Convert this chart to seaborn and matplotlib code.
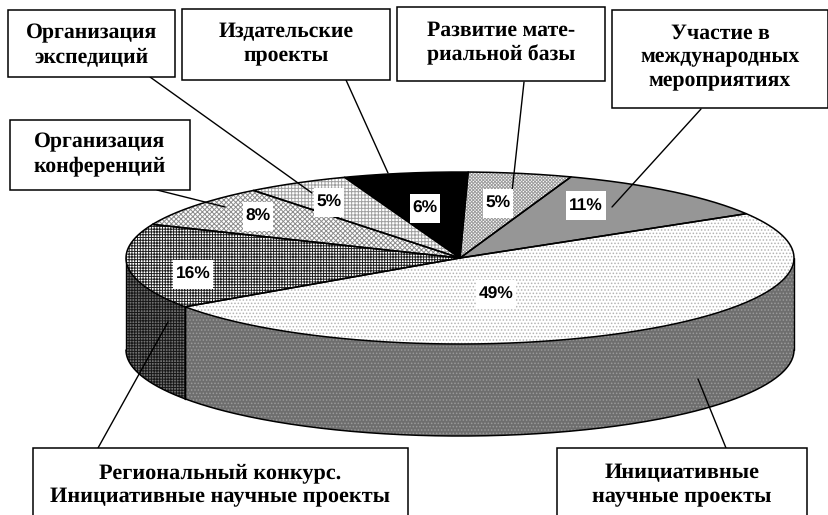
import numpy as np
import seaborn as sns
import matplotlib.pyplot as plt
from matplotlib.patches import Rectangle

values = [11, 5, 6, 5, 8, 16, 49]
box_labels = ["Участие в\nмеждународных\nмероприятиях",
              "Развитие мате-\nриальной базы",
              "Издательские\nпроекты",
              "Организация\nэкспедиций",
              "Организация\nконференций",
              "Региональный конкурс.\nИнициативные научные проекты",
              "Инициативные\nнаучные проекты"]

# styles per slice: face, hatch colour, hatch
top_face = ["#969696", "#ffffff", "#000000", "#ffffff", "#ffffff", "#ffffff", "#ffffff"]
top_hatch_col = ["#969696", "#9c9c9c", "#000000", "#a0a0a0", "#8c8c8c", "#202020", "#b4b4b4"]
top_hatch = [None, "x" * 10, None, "+" * 5, "x" * 7, "+" * 6, "." * 5]
side_face = {5: "#707070", 6: "#6e6e6e"}
side_hatch_col = {5: "#181818", 6: "#9a9a9a"}
side_hatch = {5: "+" * 6, 6: "." * 5}

# all in reference pixels
W, H = 829, 515
CX, CY, RX, RY = 460, 258, 334, 86
DEPTH = 92
START = 31
box_pos = [(612, 10, 216, 98), (397, 7, 208, 74), (182, 9, 208, 71), (8, 10, 167, 67),
           (10, 120, 180, 70), (33, 448, 375, 90), (557, 448, 250, 90)]
box_text_y = [57, 43, 44, 45, 154, 485, 485]
box_fs = [15.7, 15.7, 15.7, 15.7, 15.7, 16, 16]
leaders = [((701, 109), (612, 207)), ((524, 82), (512, 192)), ((346, 80), (388, 173)),
           ((150, 77), (312, 193)), ((157, 190), (225, 207)), ((98, 448), (168, 322)),
           ((726, 448), (698, 379))]
pct_pos = [(586, 205), (498, 203), (425, 208), (329, 202), (258, 216), (193, 274), (496, 294)]

sns.set_theme(style="white")
plt.rcParams["font.family"] = ["Liberation Serif", "DejaVu Sans"]
plt.rcParams["hatch.linewidth"] = 0.7
plt.rcParams["text.hinting"] = "no_hinting"

fig = plt.figure(figsize=(W / 100, H / 100), dpi=100, facecolor="white")

# pie axes: unit circle squashed into the ellipse, with room below for the wall
ax = fig.add_axes([(CX - RX) / W, 1 - (CY + RY + DEPTH) / H, 2 * RX / W, (2 * RY + DEPTH) / H])
wedges, _ = ax.pie(values, startangle=START, counterclock=True, radius=1)
ax.set_aspect("auto")
ax.set_xlim(-1, 1)
ax.set_ylim(-1 - DEPTH / RY, 1)
ax.axis("off")

depth = DEPTH / RY
for i, w in enumerate(wedges):
    w.set_clip_on(False)
    w.set_facecolor(top_face[i])
    w.set_edgecolor(top_hatch_col[i])
    w.set_linewidth(0)
    if top_hatch[i]:
        w.set_hatch(top_hatch[i])
    w.set_zorder(3)
    # black outline on top of the hatched fill
    t = np.radians(np.linspace(w.theta1, w.theta2, 200))
    ax.plot(np.r_[0, np.cos(t), 0], np.r_[0, np.sin(t), 0], color="black", lw=1.1,
            clip_on=False, zorder=4, solid_joinstyle="round")

    # wall, only for the part of the slice on the near side
    for a, b in [(w.theta1, w.theta2), (w.theta1 - 360, w.theta2 - 360)]:
        a, b = max(a, 180), min(b, 360)
        if a >= b:
            continue
        t = np.radians(np.linspace(a, b, 200))
        x, y = np.cos(t), np.sin(t)
        ax.fill_between(x, y, y - depth, facecolor=side_face[i], edgecolor=side_hatch_col[i],
                        hatch=side_hatch[i], linewidth=0, clip_on=False, zorder=1)
        ax.plot(x, y - depth, color="black", lw=1.1, clip_on=False, zorder=2)
        ax.plot([x[0], x[0]], [y[0], y[0] - depth], color="black", lw=1, clip_on=False, zorder=2)
        ax.plot([x[-1], x[-1]], [y[-1], y[-1] - depth], color="black", lw=1, clip_on=False, zorder=2)

# overlay in pixels for the boxes, leaders and labels
ov = fig.add_axes([0, 0, 1, 1], facecolor="none")
ov.set_xlim(0, W)
ov.set_ylim(H, 0)
ov.axis("off")

for (p0, p1) in leaders:
    ov.plot([p0[0], p1[0]], [p0[1], p1[1]], color="black", lw=1)

for (x, y, w, h), s, ty, fs in zip(box_pos, box_labels, box_text_y, box_fs):
    ov.add_patch(Rectangle((x, y), w, h, facecolor="white", edgecolor="black", lw=1.1, zorder=3))
    ov.text(x + w / 2, ty, s, ha="center", va="center", fontsize=fs, fontweight="bold",
            linespacing=1.25, zorder=4, color="black")

for v, (x, y) in zip(values, pct_pos):
    s = f"{v}%"
    bw = 30 if len(s) == 2 else 40
    ov.add_patch(Rectangle((x - bw / 2, y - 14.5), bw, 29, facecolor="white", edgecolor="none", zorder=4.5))
    ov.text(x, y, s, ha="center", va="center", fontsize=12.5, fontweight="bold",
            family=["Liberation Sans", "DejaVu Sans"], zorder=5, color="black")

fig.savefig("out.png", dpi=100)
